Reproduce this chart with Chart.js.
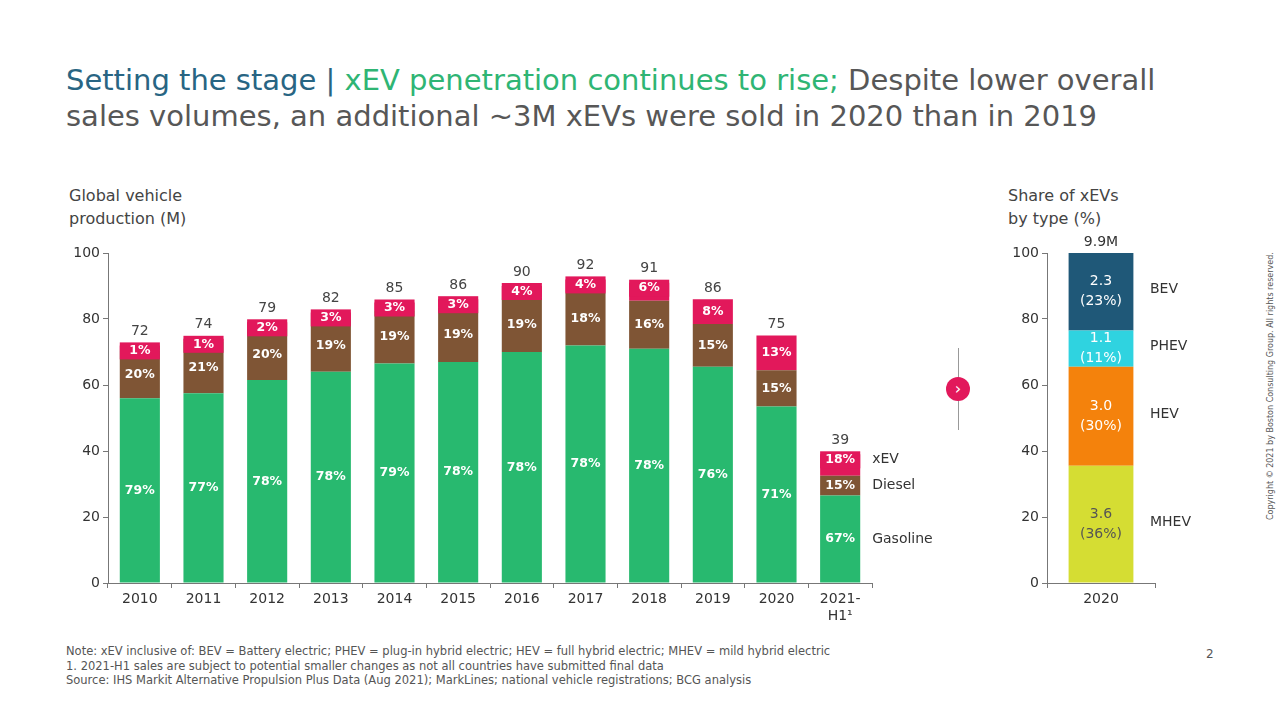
<!DOCTYPE html>
<html><head><meta charset="utf-8">
<script src="https://cdn.jsdelivr.net/npm/chart.js@4.4.0/dist/chart.umd.min.js"></script>
<style>
body{margin:0;width:1280px;height:720px;background:#fff;font-family:"DejaVu Sans",sans-serif;position:relative;overflow:hidden}
.t{position:absolute;left:66px;top:62px;font-size:29px;line-height:36px;color:#575757;width:1150px}
.lab{position:absolute;font-size:16px;color:#444;line-height:23px}
.note{position:absolute;left:66px;top:644px;font-size:11.5px;color:#555;line-height:14.5px}
canvas{position:absolute}
</style></head><body>
<div class="t"><span style="color:#286583">Setting the stage | </span><span style="color:#2fb574">xEV penetration continues to rise;</span> Despite lower overall sales volumes, an additional ~3M xEVs were sold in 2020 than in 2019</div>
<div class="lab" style="left:69px;top:184px">Global vehicle<br>production (M)</div>
<div class="lab" style="left:1008px;top:184px">Share of xEVs<br>by type (%)</div>
<div class="note">Note: xEV inclusive of: BEV = Battery electric; PHEV = plug-in hybrid electric; HEV = full hybrid electric; MHEV = mild hybrid electric<br>1. 2021-H1 sales are subject to potential smaller changes as not all countries have submitted final data<br>Source: IHS Markit Alternative Propulsion Plus Data (Aug 2021); MarkLines; national vehicle registrations; BCG analysis</div>
<div style="position:absolute;left:1206px;top:647px;font-size:12px;color:#555">2</div>
<div style="position:absolute;left:1266px;top:520px;transform:rotate(-90deg);transform-origin:0 0;font-size:8px;color:#555;white-space:nowrap">Copyright © 2021 by Boston Consulting Group. All rights reserved.</div>
<div style="position:absolute;left:958px;top:348px;width:1px;height:82px;background:#999"></div>
<div style="position:absolute;left:946px;top:377px;width:24px;height:24px;border-radius:50%;background:#e2185b;color:#fff;font-size:16px;text-align:center;line-height:23px">›</div>
<canvas id="c1" width="882" height="398" style="left:60px;top:240px;width:882px;height:398px"></canvas>
<canvas id="c2" width="200" height="400" style="left:1000px;top:220px;width:200px;height:400px"></canvas>
<script>
const years = ['2010','2011','2012','2013','2014','2015','2016','2017','2018','2019','2020',['2021-','H1¹']];
const totals = [72,74,79,82,85,86,90,92,91,86,75,39];
const gasoline = [56,57.5,61.5,64,66.5,67,70,72,71,65.5,53.5,26.5];
const diesel = [14.5,15.5,15.5,16,16,16.5,16.5,16,14.5,13,11,6];
const xev = [1.5,1,2,2,2.5,2.5,3.5,4,5.5,7.5,10.5,6.5];
const gasPct = ['79%','77%','78%','78%','79%','78%','78%','78%','78%','76%','71%','67%'];
const dieselPct = ['20%','21%','20%','19%','19%','19%','19%','18%','16%','15%','15%','15%'];
const xevPct = ['1%','1%','2%','3%','3%','3%','4%','4%','6%','8%','13%','18%'];
const seriesNames = ['Gasoline','Diesel','xEV'];

const typeNames = ['MHEV','HEV','PHEV','BEV'];
const typeShare = [35.5,30,11,23.5];
const typeLabels = [['3.6','(36%)'],['3.0','(30%)'],['1.1','(11%)'],['2.3','(23%)']];

const GREEN='#28b96f', BROWN='#7f5535', RED='#e2185b';
const tickFont={family:'DejaVu Sans',size:14};

const labels1 = {
  id:'labels1',
  afterDatasetsDraw(chart){
    const {ctx}=chart; ctx.save();
    ctx.textAlign='center'; ctx.textBaseline='middle';
    const txt=[gasPct,dieselPct,xevPct];
    chart.data.datasets.forEach((ds,di)=>{
      chart.getDatasetMeta(di).data.forEach((b,i)=>{
        const top=b.y, bot=b.base, h=bot-top;
        let cy=(top+bot)/2;
        ctx.font='bold 12.5px DejaVu Sans';
        if(di===2 && h<22){
          ctx.fillStyle=RED; ctx.fillRect(b.x-b.width/2,top-3,b.width,17);
          cy=top+5.5;
        }
        ctx.fillStyle='#fff'; ctx.fillText(txt[di][i],b.x,cy);
        if(i===totals.length-1){
          ctx.textAlign='left'; ctx.fillStyle='#333'; ctx.font='14px DejaVu Sans';
          ctx.fillText(seriesNames[di],b.x+32,cy); ctx.textAlign='center';
        }
        if(di===2){
          ctx.fillStyle='#444'; ctx.font='14px DejaVu Sans';
          ctx.fillText(String(totals[i]),b.x,top-(h<22?14:11));
        }
      });
    });
    ctx.restore();
  }
};

new Chart(document.getElementById('c1'),{
  type:'bar',
  data:{labels:years,datasets:[
    {label:'Gasoline',data:gasoline,backgroundColor:GREEN},
    {label:'Diesel',data:diesel,backgroundColor:BROWN},
    {label:'xEV',data:xev,backgroundColor:RED}
  ]},
  options:{responsive:false,animation:false,
    layout:{padding:{top:13,right:70,left:0,bottom:0}},
    datasets:{bar:{barPercentage:0.63,categoryPercentage:1}},
    plugins:{legend:{display:false},tooltip:{enabled:false}},
    scales:{
      x:{stacked:true,grid:{display:true,drawOnChartArea:false,offset:true,tickLength:5,color:'#777'},
        border:{color:'#777'},ticks:{font:tickFont,color:'#333'},afterFit:s=>{s.height=55;}},
      y:{stacked:true,min:0,max:100,grid:{drawOnChartArea:false,tickLength:5,color:'#777'},border:{color:'#777'},
        ticks:{stepSize:20,font:tickFont,color:'#333'},afterFit:s=>{s.width=48;}}
    }},
  plugins:[labels1]
});

const colors2=['#d5dd33','#f4820c','#2fd3e0','#1f5878'];
const labels2={
  id:'labels2',
  afterDatasetsDraw(chart){
    const {ctx}=chart; ctx.save(); ctx.textAlign='center'; ctx.textBaseline='middle';
    chart.data.datasets.forEach((ds,di)=>{
      const b=chart.getDatasetMeta(di).data[0];
      const cy=(b.y+b.base)/2;
      ctx.fillStyle=di===0?'#555':'#fff';
      ctx.font='14px DejaVu Sans';
      ctx.fillText(typeLabels[di][0],b.x,cy-10);
      ctx.fillText(typeLabels[di][1],b.x,cy+10);
      ctx.fillStyle='#333'; ctx.textAlign='left';
      ctx.fillText(typeNames[di],b.x+49,cy-2); ctx.textAlign='center';
      if(di===3){ctx.fillStyle='#333';ctx.fillText('9.9M',b.x,b.y-11);}
    });
    ctx.restore();
  }
};
new Chart(document.getElementById('c2'),{
  type:'bar',
  data:{labels:['2020'],datasets:typeNames.map((n,i)=>({label:n,data:[typeShare[i]],backgroundColor:colors2[i]}))},
  options:{responsive:false,animation:false,
    layout:{padding:{top:33,right:45,left:0,bottom:0}},
    datasets:{bar:{barPercentage:0.6,categoryPercentage:1}},
    plugins:{legend:{display:false},tooltip:{enabled:false}},
    scales:{
      x:{stacked:true,grid:{display:true,drawOnChartArea:false,offset:true,tickLength:5,color:'#777'},
        border:{color:'#777'},ticks:{font:tickFont,color:'#333'},afterFit:s=>{s.height=37;}},
      y:{stacked:true,min:0,max:100,grid:{drawOnChartArea:false,tickLength:5,color:'#777'},border:{color:'#777'},
        ticks:{stepSize:20,font:tickFont,color:'#333'},afterFit:s=>{s.width=47;}}
    }},
  plugins:[labels2]
});
</script>
</body></html>
